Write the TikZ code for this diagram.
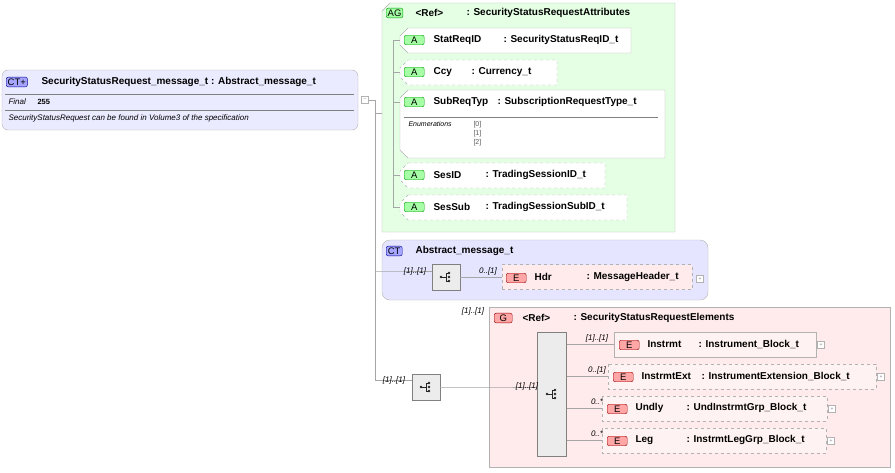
\documentclass[tikz,border=0pt]{standalone}
\usepackage{fontspec}
\setmainfont{Liberation Sans}
\begin{document}
\begin{tikzpicture}[x=1pt,y=-1pt,font=\fontsize{10}{12}\selectfont\bfseries,
  lbl/.style={font=\fontsize{8}{9}\selectfont\itshape\mdseries},
  tag/.style={draw=#1!60!black,fill=#1!35,rounded corners=2pt,inner sep=1.5pt,minimum width=16pt,font=\fontsize{9.5}{10}\selectfont\mdseries},
  seq/.style={draw=gray,fill=gray!15},
  plus/.style={draw=gray!60,fill=white,minimum size=7pt,inner sep=0pt,font=\tiny\mdseries,text=gray},
  ln/.style={draw=gray!70}]
\newcommand\seqico[1]{%
  \fill[gray!30!black] (#1) ++(-5,0) circle (1.3) ++(8,-4) circle (1.3) ++(0,4) circle (1.3) ++(0,4) circle (1.3);
  \draw[gray!30!black,line width=0.6pt] (#1) ++(-5,0) -- ++(5,0) ++(0,-4) -- ++(0,8) ++(0,-8) -- ++(3,0) ++(-3,8) -- ++(3,0);}
\useasboundingbox (0,0) rectangle (895,472);
% main complex type
\draw[gray!60,fill=blue!8,rounded corners=6pt] (2,70) rectangle (358,130);
\node[tag=blue,anchor=west] (ct0) at (6,82) {CT+};
\node[anchor=west] at (38,82) {SecurityStatusRequest\_message\_t : Abstract\_message\_t};
\draw[gray] (5,94) -- (354,94) (5,110) -- (354,110);
\node[anchor=west,font=\fontsize{8}{9}\selectfont\itshape\mdseries] at (5,102) {Final};
\node[anchor=west,font=\fontsize{7.5}{9}\selectfont\bfseries] at (34,102) {255};
\node[anchor=west,font=\fontsize{8}{9}\selectfont\itshape\mdseries] at (5,118) {SecurityStatusRequest can be found in Volume3 of the specification};
\node[plus] (mn) at (365,100) {--};
\coordinate (t1) at (375,100);
\coordinate (t2) at (375,380);
\draw[ln] (mn) -- (t1) -- (t2);
% attribute group
\draw[gray!60,fill=green!10] (390,3) -- (675,3) -- (675,232) -- (382,232) -- (382,11) -- cycle;
\draw[ln] (375,113) -- (382,113);
\node[tag=green,anchor=west] at (386,13) {AG};
\node[anchor=west] at (412,13) {<Ref>};
\node[anchor=west] at (463,13) {: SecurityStatusRequestAttributes};
\draw[ln] (393,40) -- (393,208);
\foreach \xa/\ya/\xb/\yb/\s in {400/28/631/53/solid,400/60/557/85/dashed,400/90/665/158/solid,400/163/605/188/dashed,400/195/627/220/dashed}{
  \draw[gray!60,fill=white,\s] (\xa+8,\ya) -- (\xb,\ya) -- (\xb,\yb) -- (\xa+8,\yb) -- (\xa,\yb-8) -- (\xa,\ya+8) -- cycle;
  \draw[ln] (393,\ya+12) -- (\xa,\ya+12);
  \node[tag=green,anchor=west,minimum width=20pt] at (\xa+4,\ya+12) {A};
}
\node[anchor=west] at (430,40) {StatReqID};
\node[anchor=west] at (500,40) {: SecurityStatusReqID\_t};
\node[anchor=west] at (430,72) {Ccy};
\node[anchor=west] at (468,72) {: Currency\_t};
\node[anchor=west] at (430,102) {SubReqTyp};
\node[anchor=west] at (494,102) {: SubscriptionRequestType\_t};
\draw[gray] (404,117) -- (658,117);
\node[anchor=west,font=\fontsize{7}{8}\selectfont\itshape\mdseries] at (405,124) {Enumerations};
\node[anchor=north west,align=left,font=\fontsize{7}{9}\selectfont\mdseries,text=gray!70!black] at (470,118) {{[0]}\\{[1]}\\{[2]}};
\node[anchor=west] at (430,175) {SesID};
\node[anchor=west] at (482,175) {: TradingSessionID\_t};
\node[anchor=west] at (430,207) {SesSub};
\node[anchor=west] at (482,207) {: TradingSessionSubID\_t};
% abstract message
\draw[gray!60,fill=blue!10,rounded corners=8pt] (382,240) rectangle (708,300);
\node[tag=blue,anchor=west] at (386,251) {CT};
\node[anchor=west] at (412,251) {Abstract\_message\_t};
\node[seq,minimum width=28pt,minimum height=26pt] (s1) at (446,277) {};
\seqico{s1}
\node[draw=gray!60,fill=red!8,dashed,minimum width=190pt,minimum height=25pt] (hdr) at (597,277) {};
\node[tag=red,anchor=west,minimum width=20pt] at (506,278) {E};
\node[anchor=west] at (531,277) {Hdr};
\node[anchor=west] at (583,277) {: MessageHeader\_t};
\node[plus] (p0) at (700,279) {+};
\draw[ln] (375,271) -- (382,271) -- (s1.west|-0,271);
\draw[ln] (s1) -- (hdr);
\node[lbl] at (415,271) {[1]..[1]};
\node[lbl] at (488,271) {0..[1]};
% elements group
\draw[gray!60,fill=red!8] (489,307) rectangle (890,467);
\node[lbl] at (473,311) {[1]..[1]};
\node[tag=red,anchor=west,minimum width=18pt] at (494,318) {G};
\node[anchor=west] at (519,318) {<Ref>};
\node[anchor=west] at (570,318) {: SecurityStatusRequestElements};
\node[seq,minimum width=28pt,minimum height=26pt] (s2) at (426,387) {};
\seqico{s2}
\node[seq,minimum width=29pt,minimum height=124pt] (s3) at (552,394) {};
\seqico{s3}
\draw[ln] (t2) -- (s2.west|-t2);
\draw[ln] (s2) -- (489,387) -- (s3.west|-0,387);
\node[lbl] at (394,380) {[1]..[1]};
\node[lbl] at (527,386) {[1]..[1]};
\foreach \xa/\ya/\xb/\s/\na/\ty/\m/\tx in {614/332/816/solid/Instrmt/Instrument\_Block\_t/[1]..[1]/695,608/364/876/dashed/InstrmtExt/InstrumentExtension\_Block\_t/0..[1]/698,602/396/827/dashed/Undly/UndInstrmtGrp\_Block\_t/0..*/683,602/428/826/dashed/Leg/InstrmtLegGrp\_Block\_t/0..*/683}{
  \draw[gray!60,fill=red!5,\s] (\xa,\ya) rectangle (\xb,\ya+25);
  \draw[ln] (567,\ya+12) -- (\xa,\ya+12);
  \node[tag=red,anchor=west,minimum width=20pt] at (\xa+5,\ya+13) {E};
  \node[anchor=west] at (\xa+30,\ya+12) {\na};
  \node[anchor=west] at (\tx,\ya+12) {: \ty};
  \node[plus] at (\xb+5,\ya+13) {+};
  \node[lbl] at (597,\ya+6) {\m};
}
\end{tikzpicture}
\end{document}
